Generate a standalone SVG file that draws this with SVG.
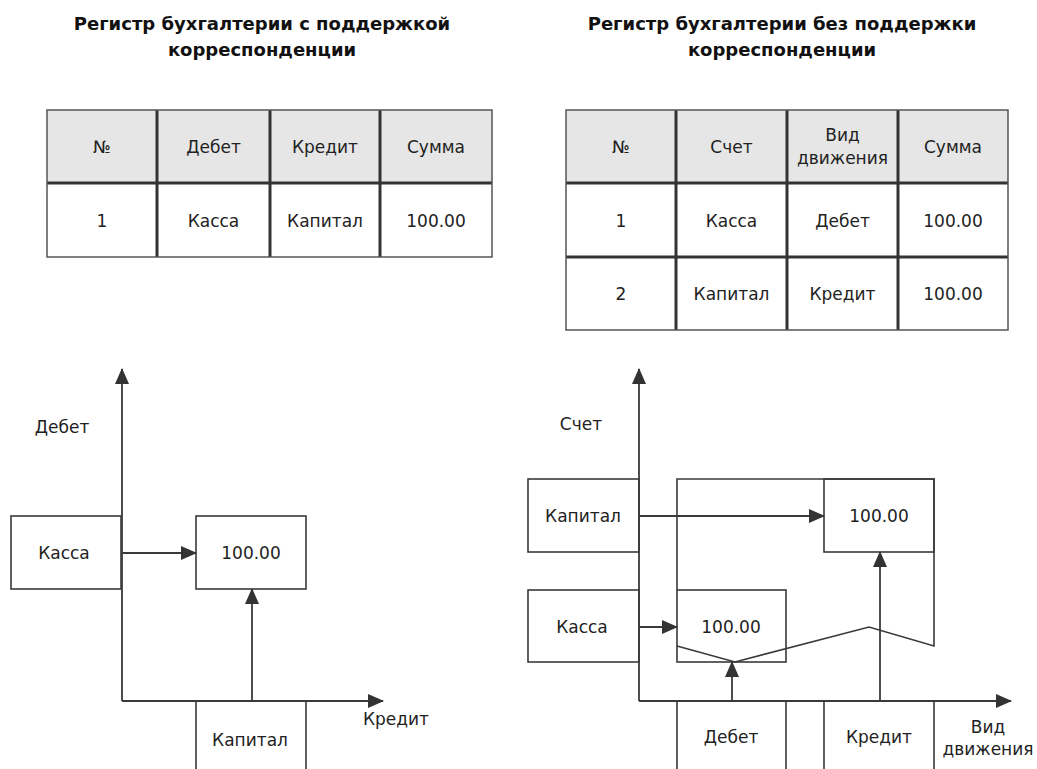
<svg xmlns="http://www.w3.org/2000/svg" width="1037" height="769" viewBox="0 0 1037 769">
  <defs>
    <marker id="arrow" markerUnits="userSpaceOnUse" markerWidth="16" markerHeight="14" refX="15" refY="7" orient="auto">
      <path d="M0,0 L16,7 L0,14 z" fill="#333"/>
    </marker>
  </defs>
  <style>
    text { font-family: "DejaVu Sans", Verdana, sans-serif; font-size: 17px; fill: #222; text-anchor: middle; }
    .title { font-weight: bold; font-size: 18px; fill: #111; }
    .hdr { fill: #e6e6e6; }
    .cell { fill: #fff; }
    .outer { fill: none; stroke: #555; stroke-width: 1.5; }
    .grid { stroke: #333; stroke-width: 3; }
    .box { fill: #fff; stroke: #3a3a3a; stroke-width: 1.6; }
    .line { fill: none; stroke: #3a3a3a; stroke-width: 1.6; }
    .arr { fill: none; stroke: #3a3a3a; stroke-width: 1.8; marker-end: url(#arrow); }
  </style>
  <rect width="1037" height="769" fill="#fff"/>

  <!-- titles -->
  <g id="title-left">
    <text class="title" x="262" y="30">Регистр бухгалтерии с поддержкой</text>
    <text class="title" x="262" y="56">корреспонденции</text>
  </g>
  <g id="title-right">
    <text class="title" x="782" y="30">Регистр бухгалтерии без поддержки</text>
    <text class="title" x="782" y="56">корреспонденции</text>
  </g>

  <!-- register with correspondence -->
  <g id="table-left">
    <rect class="hdr" x="47" y="110" width="445" height="73"/>
    <rect class="cell" x="47" y="183" width="445" height="74"/>
    <line class="grid" x1="157" y1="110" x2="157" y2="257"/>
    <line class="grid" x1="270" y1="110" x2="270" y2="257"/>
    <line class="grid" x1="380" y1="110" x2="380" y2="257"/>
    <line class="grid" x1="47" y1="183" x2="492" y2="183"/>
    <rect class="outer" x="47" y="110" width="445" height="147"/>
    <text x="102" y="153">№</text>
    <text x="213.5" y="153">Дебет</text>
    <text x="325" y="153">Кредит</text>
    <text x="436" y="153">Сумма</text>
    <text x="102" y="227">1</text>
    <text x="213.5" y="227">Касса</text>
    <text x="325" y="227">Капитал</text>
    <text x="436" y="227">100.00</text>
  </g>

  <!-- register without correspondence -->
  <g id="table-right">
    <rect class="hdr" x="566" y="110" width="442" height="73"/>
    <rect class="cell" x="566" y="183" width="442" height="147"/>
    <line class="grid" x1="676" y1="110" x2="676" y2="330"/>
    <line class="grid" x1="787" y1="110" x2="787" y2="330"/>
    <line class="grid" x1="898" y1="110" x2="898" y2="330"/>
    <line class="grid" x1="566" y1="183" x2="1008" y2="183"/>
    <line class="grid" x1="566" y1="257" x2="1008" y2="257"/>
    <rect class="outer" x="566" y="110" width="442" height="220"/>
    <text x="621" y="153">№</text>
    <text x="731.5" y="153">Счет</text>
    <text x="842.5" y="141">Вид</text>
    <text x="842.5" y="164">движения</text>
    <text x="953" y="153">Сумма</text>
    <text x="621" y="227">1</text>
    <text x="731.5" y="227">Касса</text>
    <text x="842.5" y="227">Дебет</text>
    <text x="953" y="227">100.00</text>
    <text x="621" y="300">2</text>
    <text x="731.5" y="300">Капитал</text>
    <text x="842.5" y="300">Кредит</text>
    <text x="953" y="300">100.00</text>
  </g>

  <!-- left chart nodes -->
  <g id="l-kassa">
    <rect class="box" x="11" y="516" width="110" height="73"/>
    <text x="64" y="559">Касса</text>
  </g>
  <g id="l-sum">
    <rect class="box" x="196" y="516" width="110" height="73"/>
    <text x="251" y="559">100.00</text>
  </g>
  <g id="l-kapital">
    <path class="line" d="M196,775 V701 H306 V775"/>
    <text x="250" y="746">Капитал</text>
  </g>
  <g id="l-labels">
    <text x="62" y="433">Дебет</text>
    <text x="396" y="725">Кредит</text>
  </g>

  <!-- right chart nodes -->
  <g id="r-frame">
    <path class="line" d="M677,590 V479 H934 V646 L869,627 L735,662 L677,646"/>
  </g>
  <g id="r-kapital">
    <rect class="box" x="528" y="479" width="111" height="73"/>
    <text x="583" y="522">Капитал</text>
  </g>
  <g id="r-kassa">
    <rect class="box" x="528" y="590" width="111" height="72"/>
    <text x="582" y="633">Касса</text>
  </g>
  <g id="r-sum-credit">
    <rect class="line" x="824" y="479" width="110" height="73"/>
    <text x="879" y="522">100.00</text>
  </g>
  <g id="r-sum-debit">
    <rect class="line" x="677" y="590" width="109" height="72"/>
    <text x="731" y="633">100.00</text>
  </g>
  <g id="r-debet">
    <path class="line" d="M677,775 V701 H786 V775"/>
    <text x="731" y="743">Дебет</text>
  </g>
  <g id="r-kredit">
    <path class="line" d="M824,775 V701 H934 V775"/>
    <text x="879" y="743">Кредит</text>
  </g>
  <g id="r-labels">
    <text x="581" y="430">Счет</text>
    <text x="988" y="733">Вид</text>
    <text x="988" y="755">движения</text>
  </g>

  <!-- axes and arrows -->
  <g id="connectors">
    <path class="arr" d="M122,701 V369"/>
    <path class="arr" d="M122,701 H383"/>
    <path class="arr" d="M122,553 H196"/>
    <path class="arr" d="M252,701 V589"/>

    <path class="arr" d="M639,701 V369"/>
    <path class="arr" d="M639,701 H1011"/>
    <path class="arr" d="M639,516 H824"/>
    <path class="arr" d="M639,627 H677"/>
    <path class="arr" d="M732,701 V662"/>
    <path class="arr" d="M880,701 V552"/>
  </g>
</svg>
